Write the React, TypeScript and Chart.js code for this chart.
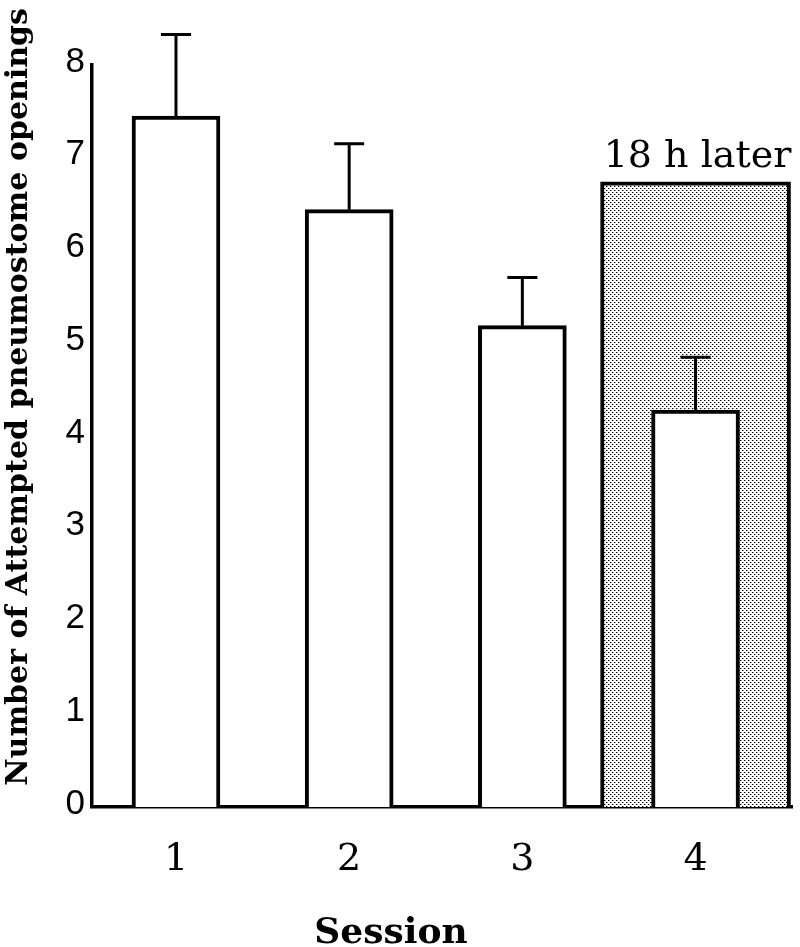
import { useEffect, useRef } from 'react';
import { Chart, registerables } from 'chart.js';

Chart.register(...registerables);

const sessions = [1, 2, 3, 4];
const meanOpenings = [7.45, 6.44, 5.19, 4.28];
const semOpenings = [0.88, 0.71, 0.52, 0.57];
const laterSession = 4;
const laterBandHeight = 6.74;
const laterLabel = '18 h later';
const yTickValues = [0, 1, 2, 3, 4, 5, 6, 7, 8];
const xTitle = 'Session';
const yTitle = 'Number of Attempted pneumostome openings';

function makeDots(): CanvasPattern | string {
  const c = document.createElement('canvas');
  c.width = 4;
  c.height = 4;
  const g = c.getContext('2d');
  if (!g) return '#d0d0d0';
  g.fillStyle = '#ffffff';
  g.fillRect(0, 0, 4, 4);
  g.fillStyle = '#000000';
  g.fillRect(0, 0, 1, 1);
  g.fillRect(2, 2, 1, 1);
  g.fillStyle = '#9a9a9a';
  g.fillRect(1, 0, 1, 1);
  g.fillRect(3, 2, 1, 1);
  return g.createPattern(c, 'repeat') ?? '#d0d0d0';
}

const overlayPlugin = {
  id: 'overlay',
  afterDatasetsDraw(chart: any) {
    const ctx = chart.ctx as CanvasRenderingContext2D;
    const yScale = chart.scales.y;
    const meta = chart.getDatasetMeta(1);
    ctx.save();
    ctx.strokeStyle = '#000';
    ctx.lineWidth = 3;
    meta.data.forEach((el: any, i: number) => {
      const top = yScale.getPixelForValue(meanOpenings[i] + semOpenings[i]);
      ctx.beginPath();
      ctx.moveTo(el.x, el.y);
      ctx.lineTo(el.x, top);
      ctx.moveTo(el.x - 15, top);
      ctx.lineTo(el.x + 15, top);
      ctx.stroke();
    });
    const band = chart.getDatasetMeta(0).data[0];
    ctx.fillStyle = '#000';
    ctx.textAlign = 'center';
    ctx.textBaseline = 'alphabetic';
    ctx.font = '38px "DejaVu Serif"';
    ctx.fillText(laterLabel, band.x + 2, band.y - 15);

    ctx.font = 'bold 36px "DejaVu Serif"';
    ctx.fillText(xTitle, 391, 943);

    ctx.translate(27, 397);
    ctx.rotate(-Math.PI / 2);
    ctx.font = 'bold 30px "DejaVu Serif"';
    ctx.fillText(yTitle, 0, 0);
    ctx.restore();
  },
};

export default function App() {
  const ref = useRef<HTMLCanvasElement>(null);
  useEffect(() => {
    if (!ref.current) return;
    const dots = makeDots();
    const chart = new Chart(ref.current, {
      type: 'bar',
      data: {
        datasets: [
          {
            label: 'band',
            data: [{ x: laterSession, y: laterBandHeight }],
            backgroundColor: dots as any,
            borderColor: '#000',
            borderWidth: 4,
            barThickness: 190,
            grouped: false,
            order: 2,
            clip: false as any,
            borderSkipped: 'start',
          } as any,
          {
            label: 'mean',
            data: sessions.map((s, i) => ({ x: s, y: meanOpenings[i] })),
            backgroundColor: '#fff',
            borderColor: '#000',
            borderWidth: 4,
            barThickness: 88,
            grouped: false,
            order: 1,
            borderSkipped: 'start',
          } as any,
        ],
      },
      options: {
        responsive: false,
        animation: false,
        layout: { padding: { top: 65, right: 8, bottom: 0, left: 0 } },
        plugins: { legend: { display: false }, tooltip: { enabled: false } },
        scales: {
          x: {
            type: 'linear',
            min: 0.515,
            max: 4.557,
            offset: false,
            z: 1,
            grid: { display: false, drawTicks: false },
            border: { display: true, color: '#000', width: 3.5 },
            afterBuildTicks: (s: any) => {
              s.ticks = sessions.map((v) => ({ value: v }));
            },
            afterFit: (s: any) => {
              s.height = 140;
            },
            ticks: {
              color: '#000',
              font: { family: 'DejaVu Serif', size: 38 },
              padding: 30,
              autoSkip: false,
              maxRotation: 0,
            },
          },
          y: {
            type: 'linear',
            min: 0,
            max: 8,
            z: 1,
            grid: { display: false, drawTicks: false },
            border: { display: true, color: '#000', width: 3.5 },
            afterBuildTicks: (s: any) => {
              s.ticks = yTickValues.map((v) => ({ value: v }));
            },
            afterFit: (s: any) => {
              s.width = 92;
            },
            ticks: {
              color: '#000',
              font: { family: '"Liberation Sans"', size: 35 },
              padding: 7,
              labelOffset: -3,
            },
          },
        },
      } as any,
      plugins: [overlayPlugin],
    });
    return () => chart.destroy();
  }, []);
  return (
    <canvas
      ref={ref}
      width={800}
      height={947}
      style={{ position: 'fixed', left: 0, top: 0, display: 'block' }}
    />
  );
}
